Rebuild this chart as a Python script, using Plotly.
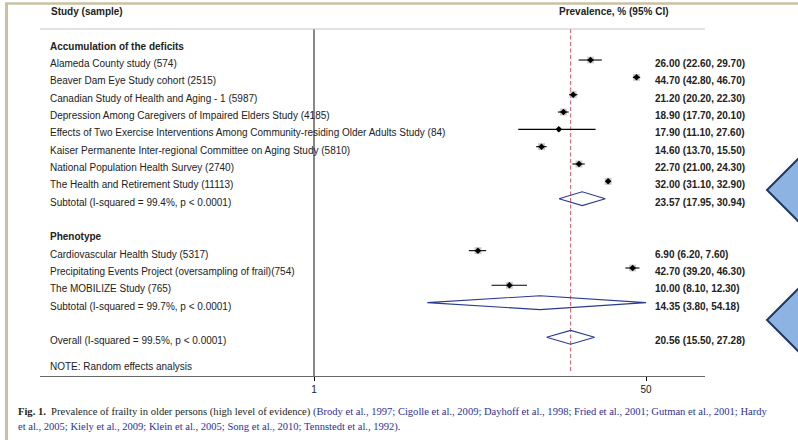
import math
import plotly.graph_objects as go

W, H = 798, 440

# ---------------- data ----------------
groups = ["Accumulation of the deficits", "Phenotype"]

studies_g1 = [
    "Alameda County study (574)",
    "Beaver Dam Eye Study cohort (2515)",
    "Canadian Study of Health and Aging - 1 (5987)",
    "Depression Among Caregivers of Impaired Elders Study (4185)",
    "Effects of Two Exercise Interventions Among Community-residing Older Adults Study (84)",
    "Kaiser Permanente Inter-regional Committee on Aging Study (5810)",
    "National Population Health Survey (2740)",
    "The Health and Retirement Study (11113)",
]
est_g1 = [26.00, 44.70, 21.20, 18.90, 17.90, 14.60, 22.70, 32.00]
lo_g1 = [22.60, 42.80, 20.20, 17.70, 11.10, 13.70, 21.00, 31.10]
hi_g1 = [29.70, 46.70, 22.30, 20.10, 27.60, 15.50, 24.30, 32.90]
w_g1 = [9.0, 9.2, 9.3, 9.3, 5.5, 9.3, 9.2, 9.3]

studies_g2 = [
    "Cardiovascular Health Study (5317)",
    "Precipitating Events Project (oversampling of frail)(754)",
    "The MOBILIZE Study (765)",
]
est_g2 = [6.90, 42.70, 10.00]
lo_g2 = [6.20, 39.20, 8.10]
hi_g2 = [7.60, 46.30, 12.30]
w_g2 = [9.3, 9.0, 9.1]

subtotal_labels = ["Subtotal (I-squared = 99.4%, p < 0.0001)",
                   "Subtotal (I-squared = 99.7%, p < 0.0001)"]
subtotal_est = [23.57, 14.35]
subtotal_lo = [17.95, 3.80]
subtotal_hi = [30.94, 54.18]

overall_label = "Overall (I-squared = 99.5%, p < 0.0001)"
overall_est, overall_lo, overall_hi = 20.56, 15.50, 27.28

note_text = "NOTE: Random effects analysis"
tick_vals = [1, 50]
tick_text = ["1", "50"]

caption_l1 = ("<b>Fig. 1.</b>  Prevalence of frailty in older persons (high level of evidence) "
              "<span style='color:#2e3192'>(Brody et al., 1997; Cigolle et al., 2009; Dayhoff et al., 1998; "
              "Fried et al., 2001; Gutman et al., 2001; Hardy</span>")
caption_l2 = ("<span style='color:#2e3192'>et al., 2005; Kiely et al., 2009; Klein et al., 2005; "
              "Song et al., 2010; Tennstedt et al., 1992)</span>.")

# ---------------- layout helpers ----------------
PX1, PX_PER_DEC = 314.0, 332.0 / math.log10(50)
ROW0, ROWH = 42.7, 17.33
AX_L, AX_R, AX_T, AX_B = 40, 705, 29, 376


def px2row(py):
    return (py - ROW0) / ROWH


def pxx(px):
    return px / W


def pxy(py):
    return 1 - py / H


# rows
rows_g1 = list(range(1, 1 + len(studies_g1)))
sub_rows = [len(studies_g1) + 1]
head_rows = [0, sub_rows[0] + 2]
rows_g2 = list(range(head_rows[1] + 1, head_rows[1] + 1 + len(studies_g2)))
sub_rows.append(rows_g2[-1] + 1)
overall_row = sub_rows[1] + 2
note_row = overall_row + 1.5

all_rows = rows_g1 + rows_g2
all_est = est_g1 + est_g2
all_lo = lo_g1 + lo_g2
all_hi = hi_g1 + hi_g2
all_w = w_g1 + w_g2
all_lab = studies_g1 + studies_g2

xmin_axis, xmax_axis = tick_vals[0], tick_vals[-1]

fig = go.Figure()

DASH_COL = "#cf6070"
NAVY = "#2b3a8f"

# reference lines
fig.add_trace(go.Scatter(x=[1, 1], y=[px2row(AX_T), px2row(AX_B)], mode="lines",
                         line=dict(color="#111111", width=1), hoverinfo="skip"))
fig.add_trace(go.Scatter(x=[overall_est, overall_est], y=[px2row(AX_T), px2row(373)], mode="lines",
                         line=dict(color=DASH_COL, width=1, dash="4px,2.5px"), hoverinfo="skip"))

# weight boxes
fig.add_trace(go.Scatter(x=all_est, y=all_rows, mode="markers",
                         marker=dict(symbol="square", color="#b4b4b4",
                                     size=[w * 0.75 for w in all_w], line=dict(width=0)),
                         hoverinfo="skip"))
# CI lines
for r, lo, hi in zip(all_rows, all_lo, all_hi):
    fig.add_trace(go.Scatter(x=[lo, hi], y=[r, r], mode="lines",
                             line=dict(color="#000000", width=1.1), hoverinfo="skip"))
# point estimates
fig.add_trace(go.Scatter(x=all_est, y=all_rows, mode="markers",
                         marker=dict(symbol="diamond", color="#000000", size=5),
                         hoverinfo="skip"))

# diamonds
dh = 0.4
for r, e, lo, hi in list(zip(sub_rows, subtotal_est, subtotal_lo, subtotal_hi)) + \
        [(overall_row, overall_est, overall_lo, overall_hi)]:
    hi_c = min(hi, xmax_axis)
    lo_c = max(lo, xmin_axis)
    fig.add_trace(go.Scatter(x=[lo_c, e, hi_c, e, lo_c], y=[r, r - dh, r, r + dh, r], mode="lines",
                             line=dict(color=NAVY, width=1.1), hoverinfo="skip"))

# ---------------- text ----------------
ann = []
TXT = "#222222"
FONT = "Liberation Sans, Arial, sans-serif"
LBL_X = pxx(48)
VAL_X = pxx(653)
YS = -3.5


def row_text(text, row, x, bold=False):
    ann.append(dict(x=x, y=row, xref="paper", yref="y", text=("<b>%s</b>" % text) if bold else text,
                    showarrow=False, xanchor="left", yanchor="middle", yshift=YS,
                    font=dict(family=FONT, size=10, color=TXT)))


for g, r in zip(groups, head_rows):
    row_text(g, r, LBL_X, bold=True)
for lab, r, e, lo, hi in zip(all_lab, all_rows, all_est, all_lo, all_hi):
    row_text(lab, r, LBL_X)
    row_text("%.2f (%.2f, %.2f)" % (e, lo, hi), r, VAL_X, bold=True)
for lab, r, e, lo, hi in zip(subtotal_labels, sub_rows, subtotal_est, subtotal_lo, subtotal_hi):
    row_text(lab, r, LBL_X)
    row_text("%.2f (%.2f, %.2f)" % (e, lo, hi), r, VAL_X, bold=True)
row_text(overall_label, overall_row, LBL_X)
row_text("%.2f (%.2f, %.2f)" % (overall_est, overall_lo, overall_hi), overall_row, VAL_X, bold=True)
row_text(note_text, note_row, LBL_X)

# headers
ann.append(dict(x=pxx(49), y=pxy(12), xref="paper", yref="paper", text="<b>Study (sample)</b>",
                showarrow=False, xanchor="left", yanchor="middle",
                font=dict(family=FONT, size=10, color=TXT)))
ann.append(dict(x=pxx(557), y=pxy(12), xref="paper", yref="paper", text="<b>Prevalence, % (95% CI)</b>",
                showarrow=False, xanchor="left", yanchor="middle",
                font=dict(family=FONT, size=10, color=TXT)))

# caption
CAP_FONT = "Liberation Serif, Times New Roman, serif"
for txt, py in [(caption_l1, 412), (caption_l2, 427)]:
    ann.append(dict(x=pxx(16), y=pxy(py), xref="paper", yref="paper", text=txt,
                    showarrow=False, xanchor="left", yanchor="middle",
                    font=dict(family=CAP_FONT, size=10.55, color="#231f20")))

# ---------------- shapes ----------------
shapes = []
# header rule
shapes.append(dict(type="line", xref="paper", yref="paper", x0=pxx(AX_L), x1=pxx(AX_R),
                   y0=pxy(AX_T), y1=pxy(AX_T), line=dict(color="#c4c4c4", width=1)))
# tan frame
TAN = "#c9c1a2"
shapes.append(dict(type="line", xref="paper", yref="paper", x0=pxx(5), x1=1.01,
                   y0=pxy(3.5), y1=pxy(3.5), line=dict(color=TAN, width=2.5)))
shapes.append(dict(type="line", xref="paper", yref="paper", x0=pxx(6.5), x1=pxx(6.5),
                   y0=pxy(3), y1=-0.01, line=dict(color=TAN, width=3)))


# decorative arrows (clipped at the right edge)
def arrow_path(tipx, tipy, half=70, depth=70):
    pts = [(tipx, tipy), (tipx + depth, tipy - half), (tipx + depth, tipy + half)]
    return "M " + " L ".join("%f,%f" % (pxx(a), pxy(b)) for a, b in pts) + " Z"


for ty in (190, 320):
    shapes.append(dict(type="path", xref="paper", yref="paper", path=arrow_path(767, ty),
                       fillcolor="#8db3e2", line=dict(color="#1f3864", width=2)))

fig.update_layout(
    width=W, height=H, autosize=False,
    margin=dict(l=0, r=0, t=0, b=0),
    paper_bgcolor="white", plot_bgcolor="white",
    showlegend=False,
    xaxis=dict(type="log", domain=[pxx(AX_L), pxx(AX_R)],
               range=[(AX_L - PX1) / PX_PER_DEC, (AX_R - PX1) / PX_PER_DEC],
               showline=True, linecolor="#666666", linewidth=1,
               ticks="outside", ticklen=4, tickcolor="#000000", tickwidth=1,
               tickvals=tick_vals, ticktext=tick_text, showgrid=False, zeroline=False,
               tickfont=dict(family=FONT, size=10, color=TXT), fixedrange=True),
    yaxis=dict(domain=[pxy(AX_B), pxy(AX_T)], range=[px2row(AX_B), px2row(AX_T)],
               visible=False, fixedrange=True),
    annotations=ann,
    shapes=shapes,
)

fig.write_html("out.html", config={"displayModeBar": False},
               post_script="document.body.style.margin='0';")
